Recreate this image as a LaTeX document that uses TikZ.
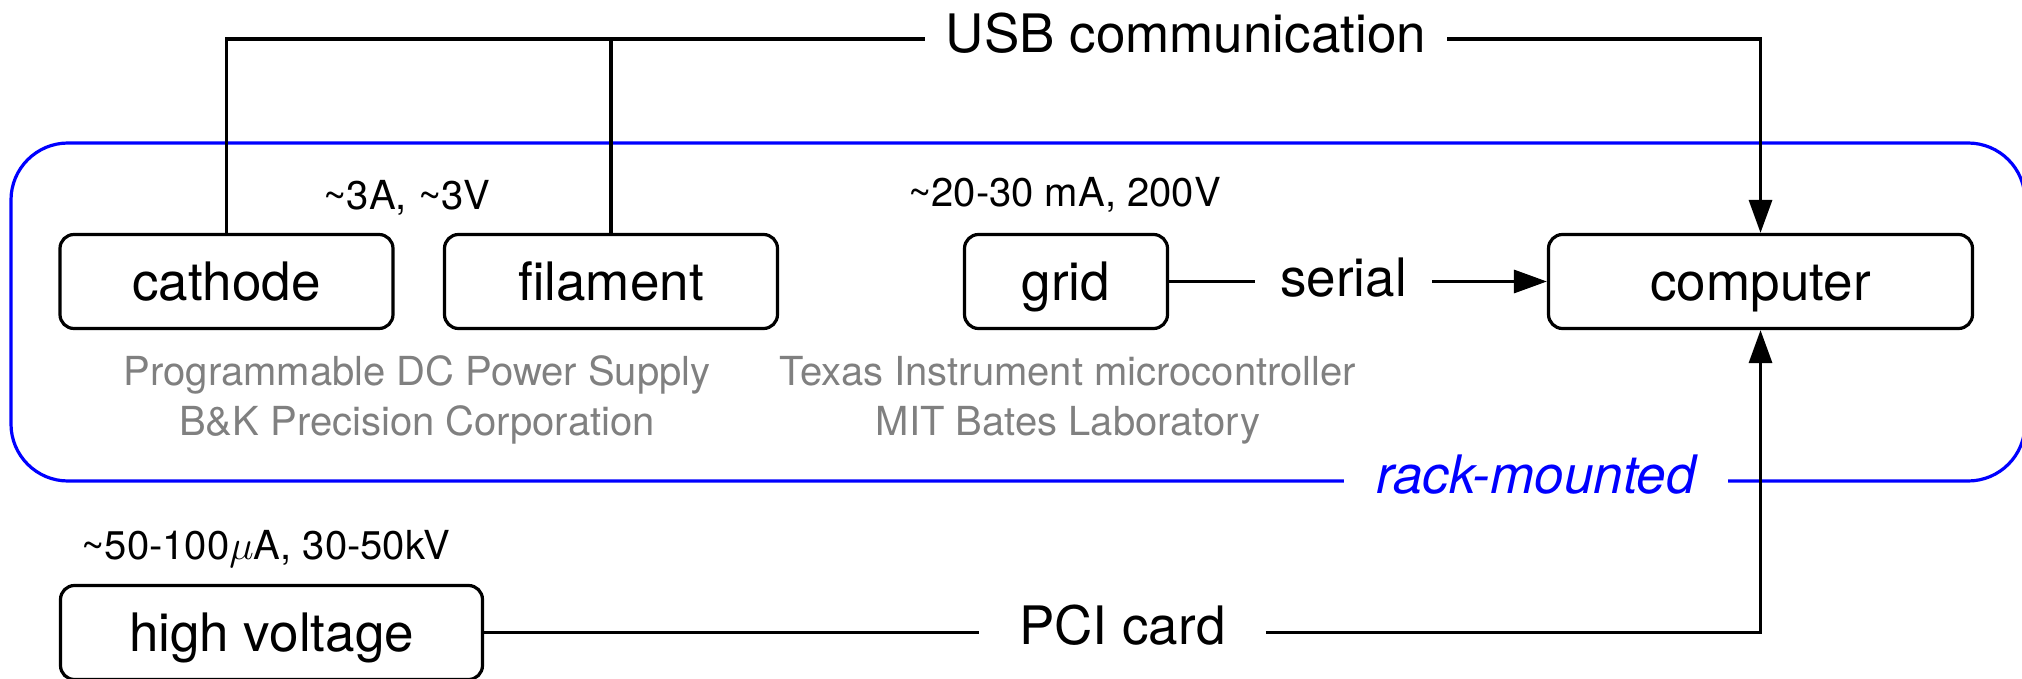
\documentclass[tikz,border=0pt]{standalone}
\usepackage{fontspec}
\setmainfont{TeX Gyre Heros}
\usetikzlibrary{arrows.meta}
\definecolor{rackblue}{rgb}{0,0,1}
\definecolor{notegray}{rgb}{0.5,0.5,0.5}
\begin{document}
\begin{tikzpicture}[x=0.5pt,y=-0.5pt,
  big/.style={font=\fontsize{26.5pt}{32pt}\selectfont},
  small/.style={font=\fontsize{20pt}{25pt}\selectfont},
  unit/.style={draw, line width=1.6pt, rounded corners=7pt, minimum height=47pt,
    inner sep=0pt, text height=24pt, text depth=5pt, big},
  wire/.style={line width=1.6pt},
  feed/.style={wire, -{Triangle[length=16.5pt,width=11.5pt]}},
  inlinetag/.style={inner ysep=0pt, text depth=0pt, text height=#1, big}]
\useasboundingbox (0,0) rectangle (2022,679);

% rack enclosure
\draw[rackblue, line width=1.6pt, rounded corners=28.5pt] (11,143) rectangle (2025,481);
\node[inlinetag=12pt, inner xsep=16pt, fill=white, text=rackblue,
  font=\fontsize{26.5pt}{32pt}\selectfont\itshape] (rack) at (1536,481) {rack-mounted};

% units
\node[unit, minimum width=166.5pt] (cathode) at (226.5,281.5) {cathode};
\node[unit, minimum width=166.5pt] (filament) at (611,281.5) {filament};
\node[unit, minimum width=101.5pt] (grid) at (1066,281.5) {grid};
\node[unit, minimum width=212pt] (computer) at (1760.5,281.5) {computer};
\node[unit, minimum width=211pt] (hv) at (271.5,632.5) {high voltage};

% ratings
\node[small, anchor=base] (ratingpsu) at (407,210) {\textasciitilde 3A, \textasciitilde 3V};
\node[small, anchor=base] (ratinggrid) at (1064.5,207) {\textasciitilde 20-30 mA, 200V};
\node[small, anchor=base] (ratinghv) at (266,559) {\textasciitilde 50-100$\mu$A, 30-50kV};

% vendors (base anchor sits on the last line)
\node[small, text=notegray, align=center, anchor=base] (psu) at (417,435)
  {Programmable DC Power Supply\\B\&K Precision Corporation};
\node[small, text=notegray, align=center, anchor=base] (mcu) at (1068,435)
  {Texas Instrument microcontroller\\MIT Bates Laboratory};

% link labels
\node[inlinetag=14pt, inner xsep=10.5pt] (usb) at (1186,39) {USB communication};
\node[inlinetag=15pt, inner xsep=12.5pt] (serial) at (1343.5,281.5) {serial};
\node[inlinetag=12.4pt, inner xsep=20pt] (pci) at (1122.4,632.5) {PCI card};

% links
\draw[wire] (cathode.north) |- (usb.west);
\draw[wire] (filament.north) -- (filament.north |- usb.west);
\draw[feed] (usb.east) -| (computer.north);
\draw[wire] (grid.east) -- (serial.west);
\draw[feed] (serial.east) -- (computer.west);
\draw[wire] (hv.east) -- (pci.west);
\draw[feed] (pci.east) -| (computer.south);
\end{tikzpicture}
\end{document}
